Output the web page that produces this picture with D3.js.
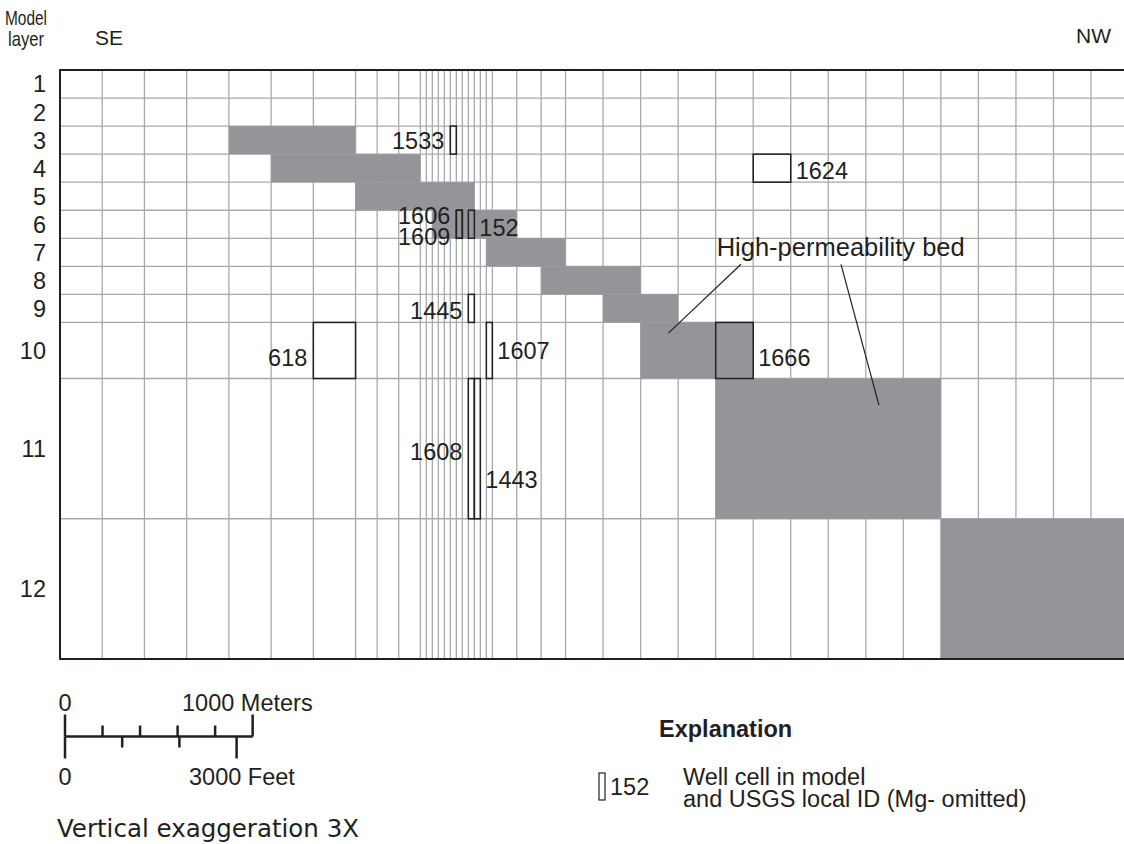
<!DOCTYPE html>
<html>
<head>
<meta charset="utf-8">
<script src="https://cdn.jsdelivr.net/npm/d3@7"></script>
<style>
  body { margin: 0; background: #fff; }
  svg text { font-family: "Liberation Sans", Arial, sans-serif; fill: #231f20; }
</style>
</head>
<body>
<div id="chart"></div>
<script>
// model layers, top to bottom, thickness in meters
var layers = ["1","2","3","4","5","6","7","8","9","10","11","12"];
var layerThickness = [50,50,50,50,50,50,50,50,50,100,250,250];

// model column widths in meters, SE to NW
var colWidths = [225,225,225,225,225,225,225,
  115,115,115,
  32,32,32,32,32,32,32,32,32,32,32,32,
  130,130,130,
  200,200,200,200,200,200,200,200,200,200,200,200,200,200,200];

// high-permeability bed: layer, first and last column (1-based)
var bedLayers = [3,4,5,6,7,8,9,10,11,12];
var bedFrom   = [5,6,8,13,22,25,27,28,30,36];
var bedTo     = [7,10,19,23,25,27,28,30,35,40];

// well cells
var wellIds    = ["1533","1606","1609","152","1445","1607","618","1666","1624","1608","1443"];
var wellLayers = [3,6,6,6,9,10,10,10,4,11,11];
var wellCols   = [16,17,17,19,19,22,7,30,31,19,20];

// scale bar ticks
var meterTicks = [0,200,400,600,800,1000];
var feetTicks = [0,1000,2000,3000];

var width = 1124, height = 844;
var fs = 23.5;

var svg = d3.select("#chart").append("svg")
  .attr("width", width)
  .attr("height", height);

// cell edges in meters
var colEdges = [0];
colWidths.forEach(function(w, i) { colEdges.push(colEdges[i] + w) });
var layerEdges = [0];
layerThickness.forEach(function(t, i) { layerEdges.push(layerEdges[i] + t) });

var x = d3.scaleLinear().domain([0, colEdges[39]]).range([60, 1091]);
var y = d3.scaleLinear().domain([0, layerEdges[12]]).range([70, 659]);

var gridColor = "#a7a9ac", dark = "#231f20", bedColor = "#939598";

// grid
var grid = svg.append("g");
grid.selectAll(".vline")
  .data(colEdges.slice(1))
  .enter().append("line")
  .attr("x1", function(d) { return x(d) }).attr("x2", function(d) { return x(d) })
  .attr("y1", y(0)).attr("y2", y(layerEdges[12]))
  .attr("stroke", gridColor).attr("stroke-width", 1.3);
grid.selectAll(".hline")
  .data(layerEdges.slice(1, 12))
  .enter().append("line")
  .attr("x1", x(0)).attr("x2", width)
  .attr("y1", function(d) { return y(d) }).attr("y2", function(d) { return y(d) })
  .attr("stroke", gridColor).attr("stroke-width", 1.3);

// high-permeability bed cells, over the grid
svg.append("g").selectAll("rect")
  .data(bedLayers)
  .enter().append("rect")
  .attr("x", function(d, i) { return x(colEdges[bedFrom[i] - 1]) })
  .attr("width", function(d, i) { return x(colEdges[bedTo[i]]) - x(colEdges[bedFrom[i] - 1]) })
  .attr("y", function(d) { return y(layerEdges[d - 1]) })
  .attr("height", function(d) { return y(layerEdges[d]) - y(layerEdges[d - 1]) })
  .attr("fill", bedColor);

// frame: top, left, bottom
svg.append("path")
  .attr("d", "M" + width + "," + y(0) + "H" + x(0) + "V" + y(layerEdges[12]) + "H" + width)
  .attr("fill", "none").attr("stroke", dark).attr("stroke-width", 2);

// layer labels
svg.append("g").selectAll("text")
  .data(layers)
  .enter().append("text")
  .attr("x", 46)
  .attr("y", function(d, i) { return (y(layerEdges[i]) + y(layerEdges[i + 1])) / 2 })
  .attr("dy", "0.36em")
  .attr("text-anchor", "end")
  .style("font-size", fs + "px")
  .text(function(d) { return d });

// wells
svg.append("g").selectAll("rect")
  .data(wellIds)
  .enter().append("rect")
  .attr("x", function(d, i) { return x(colEdges[wellCols[i] - 1]) })
  .attr("width", function(d, i) { return x(colEdges[wellCols[i]]) - x(colEdges[wellCols[i] - 1]) })
  .attr("y", function(d, i) { return y(layerEdges[wellLayers[i] - 1]) })
  .attr("height", function(d, i) { return y(layerEdges[wellLayers[i]]) - y(layerEdges[wellLayers[i] - 1]) })
  .attr("fill", "none").attr("stroke", dark).attr("stroke-width", 1.5);

// which side the well label sits on, and a vertical nudge
var labelSide = { "1533": ["l", 0], "1606": ["l", -9], "1609": ["l", 12], "152": ["r", 3],
  "1445": ["l", 2], "1607": ["r", 0], "618": ["l", 7], "1666": ["r", 7], "1624": ["r", 2],
  "1608": ["l", 3], "1443": ["r", 31] };

svg.append("g").selectAll("text")
  .data(wellIds)
  .enter().append("text")
  .attr("x", function(d, i) {
    return labelSide[d][0] == "l" ? x(colEdges[wellCols[i] - 1]) - 6 : x(colEdges[wellCols[i]]) + 5 })
  .attr("y", function(d, i) {
    return (y(layerEdges[wellLayers[i] - 1]) + y(layerEdges[wellLayers[i]])) / 2 + labelSide[d][1] })
  .attr("dy", "0.36em")
  .attr("text-anchor", function(d) { return labelSide[d][0] == "l" ? "end" : "start" })
  .style("font-size", fs + "px")
  .text(function(d) { return d });

// high-permeability bed callout
var callX = x(colEdges[29]);
svg.append("text")
  .attr("x", callX + 1).attr("y", y(layerEdges[6]) + 18)
  .style("font-size", "25.5px")
  .text("High-permeability bed");
var leaders = [[28, 10, 0.74, 0.19, 741], [34, 11, 0.35, 0.19, 841]];
svg.append("g").selectAll("line")
  .data(leaders)
  .enter().append("line")
  .attr("x1", function(d) { return d[4] })
  .attr("y1", y(layerEdges[6]) + 26)
  .attr("x2", function(d) { return x(colEdges[d[0] - 1] + d[2] * colWidths[d[0] - 1]) })
  .attr("y2", function(d) { return y(layerEdges[d[1] - 1] + d[3] * layerThickness[d[1] - 1]) })
  .attr("stroke", dark).attr("stroke-width", 1.2);

// headers
svg.append("text").attr("x", 26).attr("y", 25).attr("text-anchor", "middle")
  .attr("textLength", 42).attr("lengthAdjust", "spacingAndGlyphs")
  .style("font-size", "21px").text("Model");
svg.append("text").attr("x", 26).attr("y", 46).attr("text-anchor", "middle")
  .attr("textLength", 36).attr("lengthAdjust", "spacingAndGlyphs")
  .style("font-size", "21px").text("layer");
svg.append("text").attr("x", 95).attr("y", 45).style("font-size", "21px").text("SE");
svg.append("text").attr("x", 1076).attr("y", 43).style("font-size", "21px").text("NW");

// scale bar
var bx = 65, by = 736.5;
var mScale = d3.scaleLinear().domain([0, 1000]).range([bx, bx + x(1000) - x(0)]);
var fScale = d3.scaleLinear().domain([0, 1000 / 0.3048]).range(mScale.range());
var bar = svg.append("g").attr("stroke", dark).attr("stroke-width", 2.5);
bar.append("line").attr("x1", bx).attr("x2", mScale(1000)).attr("y1", by).attr("y2", by);
bar.selectAll(".mt").data(meterTicks).enter().append("line")
  .attr("x1", mScale).attr("x2", mScale)
  .attr("y1", by).attr("y2", function(d) { return d == 0 || d == 1000 ? by - 22 : by - 11 });
bar.selectAll(".ft").data(feetTicks).enter().append("line")
  .attr("x1", fScale).attr("x2", fScale)
  .attr("y1", by).attr("y2", function(d) { return d == 0 || d == 3000 ? by + 22 : by + 11 });

svg.append("text").attr("x", bx).attr("y", 711).attr("text-anchor", "middle")
  .style("font-size", fs + "px").text("0");
svg.append("text").attr("x", 182).attr("y", 711)
  .style("font-size", fs + "px").text("1000 Meters");
svg.append("text").attr("x", bx).attr("y", 785).attr("text-anchor", "middle")
  .style("font-size", fs + "px").text("0");
svg.append("text").attr("x", 189).attr("y", 785)
  .style("font-size", fs + "px").text("3000 Feet");
svg.append("text").attr("x", 57).attr("y", 837)
  .style("font-family", "'DejaVu Sans', sans-serif")
  .style("font-size", "24.5px").text("Vertical exaggeration 3X");

// explanation
svg.append("text").attr("x", 659).attr("y", 737)
  .style("font-size", fs + "px").style("font-weight", "bold").text("Explanation");
svg.append("rect").attr("x", 599).attr("y", 773).attr("width", 6).attr("height", 27)
  .attr("fill", "none").attr("stroke", dark).attr("stroke-width", 1.2);
svg.append("text").attr("x", 610).attr("y", 795)
  .style("font-size", fs + "px").text("152");
svg.append("text").attr("x", 683).attr("y", 785)
  .style("font-size", fs + "px").text("Well cell in model");
svg.append("text").attr("x", 683).attr("y", 807)
  .style("font-size", fs + "px").text("and USGS local ID (Mg- omitted)");
</script>
</body>
</html>
